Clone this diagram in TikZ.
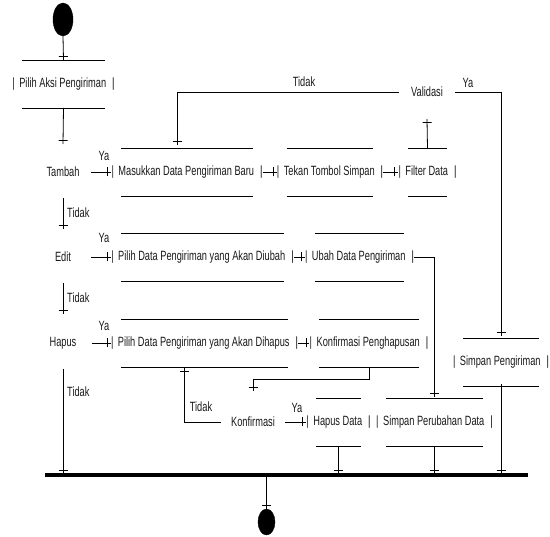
\documentclass[tikz,border=0pt]{standalone}
\usepackage{fontspec}
\setmainfont{Liberation Sans}[FakeStretch=0.69]
\usetikzlibrary{decorations.markings,shapes.geometric}
\begin{document}
\begin{tikzpicture}[x=1pt,y=-1pt,
  txt/.style={font=\fontsize{13.4}{15}\selectfont, inner sep=0pt, text=black!90},
  act/.style={txt, execute at begin node={|\hspace{4.5pt}}, execute at end node={\hspace{6pt}|}},
  ln/.style={line width=0.9pt},
  cn/.style={line width=0.8pt, postaction=decorate,
    decoration={markings, mark=at position -3.5pt with {\draw[line width=0.8pt] (0,-4.5pt) -- (0,4.5pt);}}},
]
\useasboundingbox (0,0) rectangle (550,537);

% start and end
\node[draw, fill=black, ellipse, minimum width=20pt, minimum height=33pt, inner sep=0pt] (start) at (63,19.5) {};
\node[draw, fill=black, ellipse, minimum width=17pt, minimum height=26pt, inner sep=0pt] (stop) at (266.5,522) {};

% actions
\node[act] (pa)  at (63.5,84)  {Pilih Aksi Pengiriman};
\node[act] (m)   at (187,172)  {Masukkan Data Pengiriman Baru};
\node[act] (tt)  at (330,172)  {Tekan Tombol Simpan};
\node[act] (fd)  at (427.5,172) {Filter Data};
\node[act] (pd)  at (202.5,257) {Pilih Data Pengiriman yang Akan Diubah};
\node[act] (ub)  at (359.5,257) {Ubah Data Pengiriman};
\node[act] (ph)  at (204.5,343) {Pilih Data Pengiriman yang Akan Dihapus};
\node[act] (kp)  at (369,343)  {Konfirmasi Penghapusan};
\node[act] (hd)  at (338.5,422) {Hapus Data};
\node[act] (spd) at (434.5,422) {Simpan Perubahan Data};
\node[act] (sp)  at (501,362)  {Simpan Pengiriman};

\foreach \n in {pa,m,tt,fd,pd,ub,ph,kp,hd,spd,sp}{
  \draw[ln] ([shift={(10,-24)}]\n.west) -- ([shift={(-10,-24)}]\n.east);
  \draw[ln] ([shift={(10,24)}]\n.west) -- ([shift={(-10,24)}]\n.east);
}

% decisions
\node[txt] (tam) at (63,172) {Tambah};
\node[txt] (ed)  at (63,257) {Edit};
\node[txt] (hp)  at (63,343) {Hapus};
\node[txt] (val) at (427,92) {Validasi};
\node[txt] (kon) at (253,422) {Konfirmasi};

% join bar
\draw[line width=4pt] (45,475) coordinate (barL) -- (528,475) coordinate (barR);

% labels
\node[txt] (ya1) at (104,156) {Ya};
\node[txt] (ya2) at (104,238) {Ya};
\node[txt] (ya3) at (104,326) {Ya};
\node[txt] (ya4) at (297,408) {Ya};
\node[txt] (ya5) at (468,83) {Ya};
\node[txt] (td0) at (304,82) {Tidak};
\node[txt, anchor=west] (td1) at (67,213) {Tidak};
\node[txt, anchor=west] (td2) at (67,298) {Tidak};
\node[txt, anchor=west] (td3) at (67,392) {Tidak};
\node[txt] (td4) at (201,407) {Tidak};

% coordinates
\coordinate (paT) at ([shift={(0,-24)}]pa.center);
\coordinate (paB) at ([shift={(0,24)}]pa.center);
\coordinate (tamIn) at (63,144);
\coordinate (valIn) at (427,119);
\coordinate (mIn) at (177,145);
\coordinate (edIn) at (63,229);
\coordinate (hpIn) at (63,314);
\coordinate (konIn) at (253,391);
\coordinate (phIn) at (184,368);

% connectors
\draw[cn] (start.south) -- (paT);
\draw[cn] (paB) -- (tamIn);
\draw[cn] ([xshift=11pt]tam.east) -- (m.west);
\draw[cn] (m.east) -- (tt.west);
\draw[cn] (tt.east) -- (fd.west);
\draw[cn] ([shift={(0,-24)}]fd.center) -- (valIn);
\draw[cn] ([xshift=-12pt]val.west) -| (mIn);
\draw[cn] ([xshift=12pt]val.east) -| ([shift={(0,-26)}]sp.center);
\draw[cn] (63,198) -- (edIn);
\draw[cn] ([xshift=20pt]ed.east) -- (pd.west);
\draw[cn] (pd.east) -- (ub.west);
\draw[cn] (ub.east) -| ([shift={(0,-25)}]spd.center);
\draw[cn] (63,283) -- (hpIn);
\draw[cn] ([xshift=15pt]hp.east) -- (ph.west);
\draw[cn] (ph.east) -- (kp.west);
\draw[cn] ([shift={(0,24)}]kp.center) -- ++(0,12) -| (konIn);
\draw[cn] ([xshift=-10pt]kon.west) -| (phIn);
\draw[cn] ([xshift=10pt]kon.east) -- (hd.west);
\draw[cn] (63,369) -- (63,474);
\draw[cn] ([shift={(0,24)}]hd.center) -- (338.5,474);
\draw[cn] ([shift={(0,24)}]spd.center) -- (434.5,474);
\draw[cn] ([shift={(0,22)}]sp.center) -- (501,474);
\draw[cn] (266.5,475) -- (stop.north);
\end{tikzpicture}
\end{document}
